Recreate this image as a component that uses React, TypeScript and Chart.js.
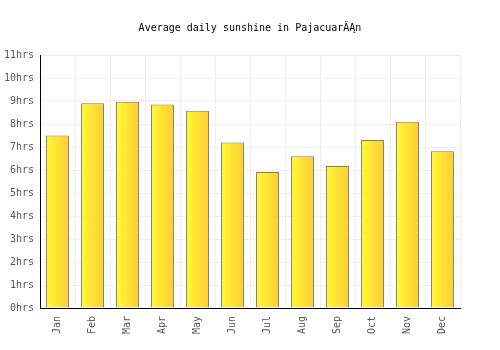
import React, { useEffect, useRef } from "react";
import { Chart, registerables } from "chart.js";

Chart.register(...registerables);

const TITLE = "Average daily sunshine in PajacuarĂĄn";
const MONTHS = ["Jan", "Feb", "Mar", "Apr", "May", "Jun", "Jul", "Aug", "Sep", "Oct", "Nov", "Dec"];
const SUNSHINE_HRS = [7.5, 8.9, 8.97, 8.85, 8.58, 7.2, 5.91, 6.6, 6.17, 7.3, 8.1, 6.82];
const Y_MAX = 11;
const FONT = "'DejaVu Sans Mono', monospace";

export default function App() {
  const ref = useRef<HTMLCanvasElement | null>(null);

  useEffect(() => {
    if (!ref.current) return;
    const chart = new Chart(ref.current, {
      type: "bar",
      data: {
        labels: MONTHS,
        datasets: [
          {
            data: SUNSHINE_HRS,
            borderColor: "#7a7a7a",
            borderWidth: 1,
            barPercentage: 0.66,
            categoryPercentage: 1,
            backgroundColor: (ctx: any) => {
              const c = ctx.chart;
              const xs = c.scales && c.scales.x;
              if (!xs || ctx.dataIndex === undefined) return "#ffe033";
              const cx = xs.getPixelForValue(ctx.dataIndex);
              const half = (xs.width / MONTHS.length) * 0.33;
              if (!isFinite(cx) || !isFinite(half) || half <= 0) return "#ffe033";
              const g = c.ctx.createLinearGradient(cx - half, 0, cx + half, 0);
              g.addColorStop(0, "#fffa33");
              g.addColorStop(1, "#ffcc33");
              return g;
            },
          },
        ],
      },
      options: {
        animation: false,
        responsive: false,
        maintainAspectRatio: false,
        layout: { padding: 0 },
        plugins: {
          legend: { display: false },
          tooltip: { enabled: false },
          title: {
            display: true,
            text: TITLE,
            color: "#000",
            font: { family: FONT, size: 10, weight: "normal" },
            padding: { top: 22, bottom: 21 },
          },
        },
        scales: {
          x: {
            grid: { color: "#eeeeee", offset: true, drawTicks: false },
            border: { color: "#000", width: 1 },
            ticks: {
              color: "#555",
              font: { family: FONT, size: 10 },
              minRotation: 90,
              maxRotation: 90,
              padding: 8,
            },
            afterFit: (s: any) => {
              s.height = 42;
            },
          },
          y: {
            min: 0,
            max: Y_MAX,
            grid: { color: "#eeeeee", drawTicks: false },
            border: { color: "#000", width: 1 },
            ticks: {
              stepSize: 1,
              color: "#555",
              font: { family: FONT, size: 10 },
              padding: 6,
              callback: (v: any) => v + "hrs",
            },
            afterFit: (s: any) => {
              s.width = 40;
            },
          },
          yRight: {
            position: "right",
            min: 0,
            max: Y_MAX,
            grid: { display: false, drawTicks: false },
            border: { display: false },
            ticks: { display: false },
            afterFit: (s: any) => {
              s.width = 40;
            },
          },
        },
      },
    });
    return () => chart.destroy();
  }, []);

  return (
    <div style={{ position: "fixed", left: 0, top: 0, width: 500, height: 350, background: "#fff" }}>
      <canvas ref={ref} width={500} height={350} style={{ width: 500, height: 350 }} />
    </div>
  );
}
